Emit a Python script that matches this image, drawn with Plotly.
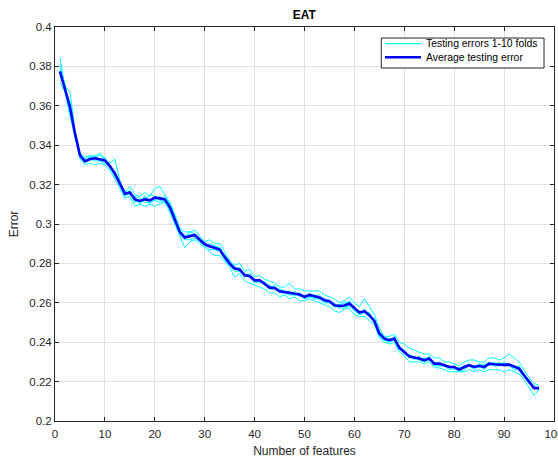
import plotly.graph_objects as go

features = list(range(1, 98))

avg_error = [
    0.3775, 0.3687, 0.3594, 0.3460, 0.3349, 0.3318, 0.3330, 0.3334, 0.3330, 0.3323,
    0.3294, 0.3256, 0.3205, 0.3154, 0.3160, 0.3125, 0.3117, 0.3125, 0.3120, 0.3134,
    0.3130, 0.3125, 0.3086, 0.3027, 0.2960, 0.2931, 0.2938, 0.2944, 0.2920, 0.2897,
    0.2887, 0.2880, 0.2870, 0.2833, 0.2799, 0.2774, 0.2769, 0.2740, 0.2736, 0.2714,
    0.2714, 0.2697, 0.2677, 0.2675, 0.2658, 0.2655, 0.2650, 0.2647, 0.2642, 0.2630,
    0.2640, 0.2633, 0.2627, 0.2613, 0.2608, 0.2588, 0.2584, 0.2586, 0.2596, 0.2574,
    0.2550, 0.2557, 0.2537, 0.2508, 0.2444, 0.2418, 0.2410, 0.2418, 0.2372, 0.2350,
    0.2328, 0.2322, 0.2317, 0.2308, 0.2317, 0.2291, 0.2291, 0.2283, 0.2274, 0.2274,
    0.2261, 0.2274, 0.2283, 0.2274, 0.2280, 0.2274, 0.2291, 0.2288, 0.2286, 0.2285,
    0.2286, 0.2274, 0.2266, 0.2232, 0.2198, 0.2167, 0.2167,
]

fold_1 = [
    .384, .370, .367, .348, .334, .333, .335, .334, .336, .333,
    .331, .333, .322, .316, .319, .315, .314, .316, .314, .318,
    .319, .315, .311, .305, .298, .296, .296, .297, .294, .291,
    .292, .290, .290, .286, .281, .279, .280, .276, .277, .273,
    .274, .272, .271, .270, .268, .268, .270, .267, .267, .266,
    .266, .266, .266, .264, .263, .262, .260, .261, .263, .260,
    .258, .262, .258, .254, .247, .243, .243, .244, .240, .239,
    .237, .236, .235, .234, .234, .232, .232, .230, .230, .229,
    .228, .230, .231, .231, .230, .230, .232, .232, .231, .232,
    .234, .232, .230, .226, .222, .219, .218,
]
fold_2 = [
    .372, .367, .355, .344, .333, .330, .331, .330, .331, .330,
    .327, .323, .318, .313, .314, .309, .310, .309, .310, .309,
    .310, .311, .306, .300, .294, .288, .291, .292, .290, .288,
    .286, .284, .284, .281, .278, .273, .275, .271, .270, .269,
    .268, .267, .265, .265, .263, .264, .262, .263, .261, .261,
    .262, .261, .260, .259, .258, .256, .255, .257, .257, .254,
    .253, .253, .251, .249, .242, .240, .239, .240, .235, .233,
    .230, .230, .230, .229, .230, .227, .227, .226, .225, .225,
    .225, .225, .226, .225, .226, .225, .226, .226, .226, .225,
    .226, .225, .224, .221, .217, .213, .216,
]
fold_3 = [
    .378, .371, .358, .347, .336, .331, .334, .334, .335, .333,
    .330, .326, .322, .315, .317, .312, .311, .314, .312, .312,
    .314, .312, .309, .304, .297, .294, .295, .293, .293, .289,
    .290, .289, .286, .284, .280, .278, .276, .275, .273, .272,
    .270, .271, .267, .269, .266, .265, .266, .264, .265, .262,
    .265, .263, .264, .261, .260, .260, .257, .259, .261, .256,
    .256, .255, .255, .250, .245, .241, .242, .241, .238, .234,
    .234, .231, .233, .230, .233, .228, .230, .228, .228, .226,
    .227, .227, .229, .227, .229, .228, .230, .228, .230, .228,
    .229, .228, .227, .223, .220, .217, .217,
]
fold_4 = [
    .381, .367, .362, .345, .336, .333, .332, .335, .332, .334,
    .328, .327, .320, .317, .315, .314, .313, .312, .315, .314,
    .312, .314, .310, .302, .297, .293, .296, .295, .291, .291,
    .288, .289, .288, .283, .282, .277, .278, .273, .275, .271,
    .272, .269, .269, .267, .267, .266, .264, .266, .263, .264,
    .263, .264, .262, .262, .261, .258, .259, .258, .258, .258,
    .254, .257, .253, .252, .243, .242, .240, .243, .236, .236,
    .232, .233, .231, .232, .231, .230, .228, .229, .227, .228,
    .225, .228, .228, .228, .227, .229, .228, .230, .228, .230,
    .228, .227, .228, .224, .219, .218, .216,
]
fold_5 = [
    .375, .369, .356, .347, .334, .331, .333, .332, .332, .331,
    .329, .324, .321, .314, .316, .311, .312, .311, .311, .312,
    .311, .312, .307, .303, .295, .292, .292, .293, .291, .289,
    .287, .287, .286, .282, .279, .276, .276, .274, .273, .270,
    .271, .269, .267, .267, .265, .265, .264, .264, .264, .262,
    .263, .262, .262, .260, .260, .258, .258, .257, .259, .256,
    .254, .255, .253, .250, .243, .241, .240, .241, .237, .234,
    .232, .232, .231, .230, .231, .228, .228, .228, .226, .227,
    .225, .226, .228, .226, .228, .226, .229, .228, .228, .229,
    .228, .226, .226, .222, .220, .217, .217,
]
fold_6 = [
    .376, .369, .356, .347, .336, .334, .334, .334, .333, .333,
    .330, .324, .322, .315, .315, .314, .310, .314, .310, .314,
    .312, .311, .311, .303, .295, .294, .293, .295, .293, .290,
    .288, .288, .288, .284, .279, .278, .277, .274, .274, .271,
    .271, .270, .268, .268, .266, .266, .265, .264, .265, .263,
    .264, .263, .262, .261, .261, .259, .259, .260, .260, .258,
    .255, .256, .254, .251, .245, .243, .241, .242, .238, .235,
    .233, .232, .232, .231, .232, .229, .229, .228, .227, .227,
    .227, .227, .228, .227, .228, .227, .229, .229, .229, .229,
    .229, .227, .227, .223, .221, .217, .216,
]

folds = [fold_1, fold_2, fold_3, fold_4, fold_5, fold_6]

x_ticks = [0, 10, 20, 30, 40, 50, 60, 70, 80, 90, 100]
y_ticks = [0.2, 0.22, 0.24, 0.26, 0.28, 0.3, 0.32, 0.34, 0.36, 0.38, 0.4]
y_tick_text = ["0.2", "0.22", "0.24", "0.26", "0.28", "0.3", "0.32", "0.34", "0.36", "0.38", "0.4"]
legend_labels = ["Testing errors 1-10 folds", "Average testing error"]

FONT = "Liberation Sans, Arial, Helvetica, sans-serif"
AX = "#262626"
CYAN = "#00ffff"
BLUE = "#0000ff"

fig = go.Figure()
for i, f in enumerate(folds):
    fig.add_trace(go.Scatter(
        x=features, y=f, mode="lines",
        line=dict(color=CYAN, width=1),
        name=legend_labels[0], showlegend=False,
    ))
fig.add_trace(go.Scatter(
    x=features, y=avg_error, mode="lines",
    line=dict(color=BLUE, width=2.6),
    name=legend_labels[1], showlegend=False,
))

axis_common = dict(
    showline=True, linecolor=AX, linewidth=1, mirror="ticks",
    ticks="inside", ticklen=4, tickcolor=AX, tickwidth=1,
    showgrid=True, gridcolor="#e0e0e0", gridwidth=1,
    zeroline=False, automargin=False, ticklabeloverflow="allow",
    tickfont=dict(family=FONT, size=11.5, color=AX),
)

fig.update_xaxes(
    range=[0, 100], tickvals=x_ticks, ticklabelstandoff=2,
    title=dict(text="Number of features", font=dict(family=FONT, size=12, color=AX), standoff=8),
    **axis_common,
)
fig.update_yaxes(
    range=[0.2, 0.4], tickvals=y_ticks, ticktext=y_tick_text,
    title=dict(text="Error", font=dict(family=FONT, size=12, color=AX), standoff=8),
    **axis_common,
)

# Legend box (MATLAB-style) in paper coordinates
lx0, lx1, ly0, ly1 = 0.6539, 0.980, 0.8959, 0.972
fig.add_shape(type="rect", xref="paper", yref="paper", x0=lx0, x1=lx1, y0=ly0, y1=ly1,
              line=dict(color=AX, width=1), fillcolor="white", layer="above")
item_y = [0.9576, 0.9231]
item_col = [CYAN, BLUE]
item_w = [1.2, 2.6]
for lab, yy, c, w in zip(legend_labels, item_y, item_col, item_w):
    fig.add_shape(type="line", xref="paper", yref="paper", x0=0.6613, x1=0.7335, y0=yy, y1=yy,
                  line=dict(color=c, width=w), layer="above")
    fig.add_annotation(xref="paper", yref="paper", x=0.7385, y=yy, text=lab, showarrow=False,
                       xanchor="left", yanchor="middle",
                       font=dict(family=FONT, size=10.4, color="black"))

fig.update_layout(
    width=558, height=458,
    margin=dict(l=55, r=4, t=27, b=37),
    paper_bgcolor="white", plot_bgcolor="white",
    title=dict(text="<b>EAT</b>", x=0.5454, xanchor="center", y=0.967, yanchor="middle",
               font=dict(family=FONT, size=12, color="black")),
    showlegend=False,
)

fig.write_html(
    "out.html",
    config={"displayModeBar": False},
    post_script="document.body.style.margin='0';document.body.style.overflow='hidden';",
)
